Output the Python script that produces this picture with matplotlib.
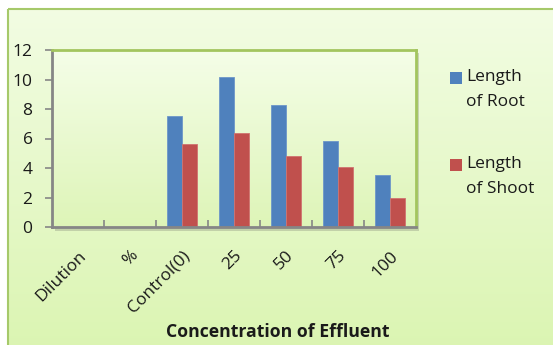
import numpy as np
import matplotlib
matplotlib.use("Agg")
import matplotlib.pyplot as plt
from matplotlib.patches import Rectangle

# chart data
categories = ["Dilution", "%", "Control(0)", "25", "50", "75", "100"]
root_length = [0, 0, 7.5, 10.2, 8.3, 5.8, 3.5]
shoot_length = [0, 0, 5.6, 6.4, 4.8, 4.1, 2.0]
series_names = ["Length\nof Root", "Length\nof Shoot"]
series_colors = ["#4f81bd", "#c0504d"]
y_ticks = [0, 2, 4, 6, 8, 10, 12]

plt.rcParams['font.family'] = ['Open Sans', 'DejaVu Sans']
FS = 12.5

W, H = 553, 345
fig = plt.figure(figsize=(W / 100, H / 100), dpi=100)
fig.patch.set_facecolor("white")

# outer chart area with a soft green vertical gradient
bg = fig.add_axes([0, 0, 1, 1])
bg.set_xlim(0, W)
bg.set_ylim(H, 0)
bg.axis("off")
grad = np.linspace(0, 1, 256).reshape(-1, 1)
top = np.array([0.95, 0.99, 0.89])
bot = np.array([0.86, 0.96, 0.70])
img = top + (bot - top) * grad[:, :, None]
bg.imshow(img, extent=[8, W + 2, H + 2, 9], aspect="auto", zorder=0)
bg.add_patch(Rectangle((8, 9), W, H, fill=False, edgecolor="#a6c96a", lw=1.5, zorder=1))
# plot area shadow
bg.add_patch(Rectangle((55, 53), 364, 178, facecolor="#9aa48a", alpha=0.45, lw=0, zorder=1))

left, right, ytop, ybot = 52, 416, 50, 227
ax = fig.add_axes([left / W, 1 - ybot / H, (right - left) / W, (ybot - ytop) / H])
ax.set_facecolor("none")
ptop = np.array([0.96, 0.995, 0.91])
pbot = np.array([0.87, 0.96, 0.72])
ax.imshow(ptop + (pbot - ptop) * grad[:, :, None],
          extent=[-0.5, len(categories) - 0.5, 0, 12], aspect="auto", zorder=0)

x = np.arange(len(categories))
bw = 0.29
ax.bar(x - bw / 2, root_length, bw, color=series_colors[0], edgecolor="#6d96c9", lw=0.6, zorder=2)
ax.bar(x + bw / 2, shoot_length, bw, color=series_colors[1], edgecolor="#d07370", lw=0.6, zorder=2)

ax.set_xlim(-0.5, len(categories) - 0.5)
ax.set_ylim(0, 12)
ax.set_yticks(y_ticks)
ax.set_yticklabels([str(t) for t in y_ticks], fontsize=FS, color="#1a1a1a")
ax.set_xticks(x)
ax.set_xticklabels(categories, rotation=45, ha="right", rotation_mode="anchor",
                   fontsize=FS, color="#1a1a1a")
ax.tick_params(axis="x", length=0, pad=15)
ax.set_xticks(np.arange(0.5, len(categories) - 0.5, 1), minor=True)
ax.tick_params(axis="x", which="minor", length=5, direction="in", color="#868686", width=1.2)
ax.tick_params(axis="y", length=5, direction="out", color="#868686", width=1.2, pad=9)

for s in ["top", "right"]:
    ax.spines[s].set_color("#a3c55f")
    ax.spines[s].set_linewidth(2)
for s in ["left", "bottom"]:
    ax.spines[s].set_color("#868686")
    ax.spines[s].set_linewidth(2)

# axis title, sitting right of the plot centre
bg.text(278, 332, "Concentration of Effluent", fontsize=12.7, fontweight="bold",
        ha="center", va="center", color="#1a1a1a")

# legend: square key aligned with the first line of each label
for i, (name, col) in enumerate(zip(series_names, series_colors)):
    y0 = 72 + i * 87
    bg.add_patch(Rectangle((450, y0), 11.5, 11.5, facecolor=col, lw=0, zorder=3))
    bg.text(466, y0 - 3, name, fontsize=FS, ha="left", va="top",
            linespacing=1.75, color="#1a1a1a")

fig.savefig("out.png", dpi=100)
